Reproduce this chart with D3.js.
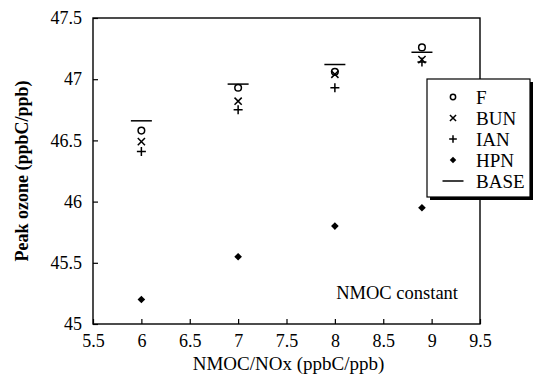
<!DOCTYPE html>
<html>
<head>
<meta charset="utf-8">
<script src="https://cdn.jsdelivr.net/npm/d3@7"></script>
<style>
  body { margin: 0; background: #fff; }
  svg { display: block; font-family: "Liberation Serif", "Times New Roman", serif; }
</style>
</head>
<body>
<div id="chart"></div>
<script>
// NMOC/NOx ratio for each group of markers
const ratios = [6, 7, 8, 8.9];
// peak ozone values per series
const seriesF = [46.58, 46.93, 47.06, 47.26];
const seriesBUN = [46.49, 46.82, 47.04, 47.16];
const seriesIAN = [46.41, 46.75, 46.93, 47.14];
const seriesHPN = [45.2, 45.55, 45.8, 45.95];
const seriesBASE = [46.66, 46.96, 47.12, 47.22];

const xTicks = [5.5, 6, 6.5, 7, 7.5, 8, 8.5, 9, 9.5];
const yTicks = [45, 45.5, 46, 46.5, 47, 47.5];
const legendNames = ['F', 'BUN', 'IAN', 'HPN', 'BASE'];

const width = 534;
const height = 380;
const margin = {top: 18, right: 54, bottom: 56, left: 93};

const svg = d3.select('#chart').append('svg')
  .attr('width', width)
  .attr('height', height);

const xScale = d3.scaleLinear().domain([5.5, 9.5]).range([margin.left, width - margin.right]);
const yScale = d3.scaleLinear().domain([45, 47.5]).range([height - margin.bottom, margin.top]);

// frame
svg.append('rect')
  .attr('x', xScale(5.5)).attr('y', yScale(47.5))
  .attr('width', xScale(9.5) - xScale(5.5))
  .attr('height', yScale(45) - yScale(47.5))
  .attr('fill', 'none').attr('stroke', '#000').attr('stroke-width', 1.4);

// axes with inward ticks
const axisBottom = d3.axisBottom(xScale).tickValues(xTicks).tickSizeInner(-5).tickSizeOuter(0)
  .tickFormat(d3.format('')).tickPadding(10);
const axisLeft = d3.axisLeft(yScale).tickValues(yTicks).tickSizeInner(-5).tickSizeOuter(0)
  .tickFormat(d3.format('')).tickPadding(11);

const gx = svg.append('g').attr('transform', 'translate(0,' + yScale(45) + ')').call(axisBottom);
const gy = svg.append('g').attr('transform', 'translate(' + xScale(5.5) + ',0)').call(axisLeft);
[gx, gy].forEach(function(g) {
  g.select('.domain').remove();
  g.selectAll('line').attr('stroke', '#000').attr('stroke-width', 1.2);
  g.selectAll('text').attr('font-family', '"Liberation Serif", serif').attr('font-size', 18).attr('fill', '#000');
});

// axis titles
svg.append('text')
  .attr('x', (xScale(5.5) + xScale(9.5)) / 2 + 2).attr('y', 370)
  .attr('text-anchor', 'middle').attr('font-size', 19)
  .text('NMOC/NOx (ppbC/ppb)');

svg.append('text')
  .attr('transform', 'translate(28,' + ((yScale(45) + yScale(47.5)) / 2) + ') rotate(-90)')
  .attr('text-anchor', 'middle').attr('font-size', 18).attr('font-weight', 'bold')
  .text('Peak ozone (ppbC/ppb)');

svg.append('text')
  .attr('x', 458).attr('y', 299)
  .attr('text-anchor', 'end').attr('font-size', 18.5)
  .text('NMOC constant');

// marker drawing helpers
function drawMarker(g, type, cx, cy, scale) {
  const s = scale || 1;
  if (type === 'F') {
    g.append('circle').attr('cx', cx).attr('cy', cy).attr('r', 3.3 * s)
      .attr('fill', 'none').attr('stroke', '#000').attr('stroke-width', 1.5);
  } else if (type === 'BUN') {
    const r = 3.6 * s;
    g.append('path')
      .attr('d', 'M' + (cx - r) + ',' + (cy - r) + 'L' + (cx + r) + ',' + (cy + r) +
        'M' + (cx - r) + ',' + (cy + r) + 'L' + (cx + r) + ',' + (cy - r))
      .attr('stroke', '#000').attr('stroke-width', 1.5);
  } else if (type === 'IAN') {
    const r = 4.5 * s;
    g.append('path')
      .attr('d', 'M' + (cx - r) + ',' + cy + 'L' + (cx + r) + ',' + cy +
        'M' + cx + ',' + (cy - r) + 'L' + cx + ',' + (cy + r))
      .attr('stroke', '#000').attr('stroke-width', 1.5);
  } else if (type === 'HPN') {
    const r = 3.8 * s;
    g.append('path')
      .attr('d', 'M' + cx + ',' + (cy - r) + 'L' + (cx + r) + ',' + cy + 'L' + cx + ',' + (cy + r) +
        'L' + (cx - r) + ',' + cy + 'Z')
      .attr('fill', '#000');
  } else if (type === 'BASE') {
    g.append('line')
      .attr('x1', cx - 10.5).attr('x2', cx + 10.5).attr('y1', cy).attr('y2', cy)
      .attr('stroke', '#000').attr('stroke-width', 1.5);
  }
}

const seriesList = [
  {name: 'BASE', values: seriesBASE},
  {name: 'F', values: seriesF},
  {name: 'BUN', values: seriesBUN},
  {name: 'IAN', values: seriesIAN},
  {name: 'HPN', values: seriesHPN}
];

const marks = svg.append('g');
seriesList.forEach(function(series) {
  series.values.forEach(function(v, i) {
    drawMarker(marks, series.name, xScale(ratios[i]), yScale(v));
  });
});

// legend box with shadow
const legend = svg.append('g');
const lx = 427, ly = 79, lw = 103, lh = 118;
legend.append('rect').attr('x', lx + 3).attr('y', ly + 3).attr('width', lw).attr('height', lh).attr('fill', '#000');
legend.append('rect').attr('x', lx).attr('y', ly).attr('width', lw).attr('height', lh)
  .attr('fill', '#fff').attr('stroke', '#000').attr('stroke-width', 1.2);

legendNames.forEach(function(name, i) {
  const cy = 97 + i * 21;
  drawMarker(legend, name, 453, cy, name === 'F' ? 0.8 : 0.85);
  legend.append('text').attr('x', 476).attr('y', cy + 7)
    .attr('font-size', 19).text(name);
});
</script>
</body>
</html>
